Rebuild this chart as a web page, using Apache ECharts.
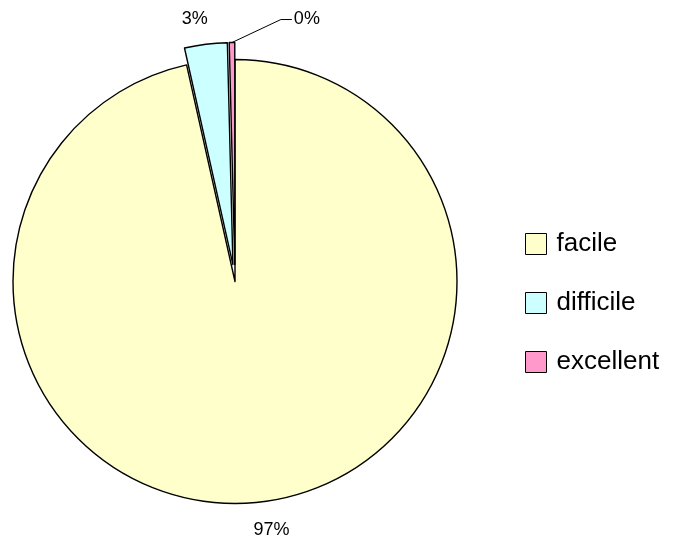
<!DOCTYPE html>
<html>
<head>
<meta charset="utf-8">
<script src="https://cdn.jsdelivr.net/npm/echarts@6/dist/echarts.min.js"></script>
<style>
  html, body { margin: 0; padding: 0; background: #fff; }
  #chart { width: 673px; height: 537px; }
</style>
</head>
<body>
<div id="chart"></div>
<script>
// données
var categories = ["facile", "difficile", "excellent"];
var values = [96.5, 3.1, 0.4];
var colors = ["#FFFFCC", "#CCFFFF", "#FF99CC"];
var exploded = [false, true, true];

(function () {
  var myChart = echarts.init(document.getElementById("chart"));

  var data = categories.map(function (name, i) {
    return {
      name: name,
      value: values[i],
      selected: exploded[i],
      itemStyle: { color: colors[i] }
    };
  });
  // longueur des traits de rappel par part
  data[0].labelLine = { show: false, length: 28, length2: 0 };
  data[1].labelLine = { show: false, length: 25, length2: 0 };
  data[2].labelLine = { show: true, length: 10, length2: 10 };

  var option = {
    animation: false,
    legend: {
      orient: "vertical",
      left: 520,
      top: 226,
      itemWidth: 21,
      itemHeight: 21,
      itemGap: 33,
      icon: "rect",
      selectedMode: false,
      itemStyle: { borderColor: "#000", borderWidth: 1 },
      textStyle: {
        fontFamily: "Liberation Sans, Arial",
        fontSize: 26,
        color: "#000",
        padding: [0, 0, 0, 5]
      },
      data: categories
    },
    series: [
      {
        type: "pie",
        center: [235, 281.5],
        radius: 222,
        startAngle: 90,
        clockwise: true,
        selectedMode: "multiple",
        selectedOffset: 17,
        avoidLabelOverlap: false,
        itemStyle: { borderColor: "#000", borderWidth: 1.4 },
        emphasis: { scale: false, disabled: true },
        select: { itemStyle: { borderColor: "#000", borderWidth: 1.4 } },
        label: {
          show: true,
          position: "outside",
          distanceToLabelLine: 0,
          fontFamily: "Liberation Sans, Arial",
          fontSize: 18,
          color: "#000",
          formatter: function (p) {
            return Math.round(p.percent) + "%";
          }
        },
        labelLine: {
          lineStyle: { color: "#000", width: 1 }
        },
        labelLayout: function (params) {
          if (params.dataIndex === 0) {
            return { align: "center", dx: 9 };
          }
          if (params.dataIndex === 1) {
            return { dx: 5 };
          }
          // "0%" : texte à droite avec trait de rappel
          var r = params.labelRect;
          var dx = 72, dy = -13;
          var left = r.x + r.width + dx;
          var cy = r.y + r.height / 2 + dy;
          var p0 = params.labelLinePoints[0];
          return {
            dx: dx,
            dy: dy,
            align: "left",
            labelLinePoints: [p0, [left - 13, cy], [left - 2, cy]]
          };
        },
        data: data
      }
    ]
  };

  myChart.setOption(option);
  window.addEventListener("resize", function () {
    myChart.resize();
  });
})();
</script>
</body>
</html>
